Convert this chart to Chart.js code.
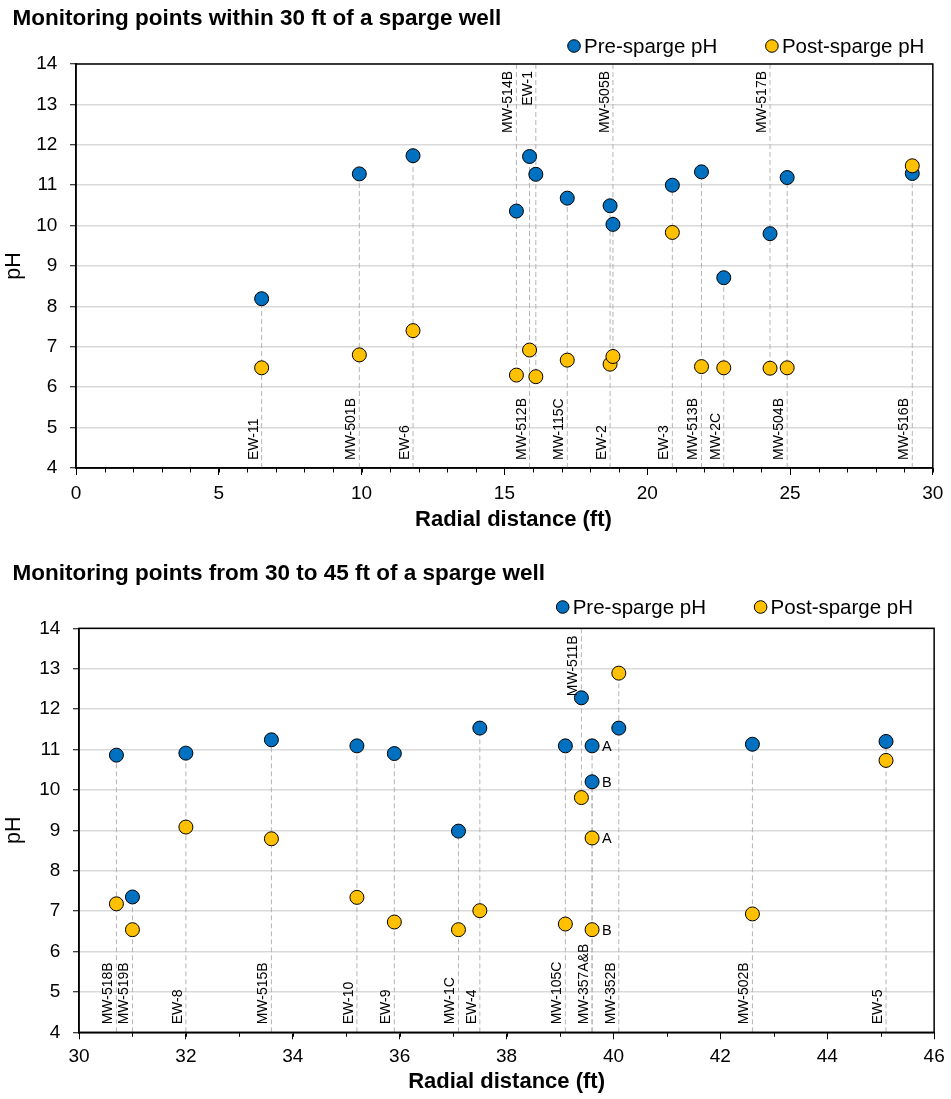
<!DOCTYPE html>
<html>
<head>
<meta charset="utf-8">
<title>Sparge well pH monitoring</title>
<script src="https://cdn.jsdelivr.net/npm/chart.js@4.4.1/dist/chart.umd.min.js"></script>
<style>
  html, body { margin: 0; padding: 0; background: #fff; }
  .panel { position: absolute; left: 0; width: 951px; }
  #panelNear { top: 0; height: 545px; }
  #panelFar { top: 545px; height: 554px; }
</style>
</head>
<body>
<div class="panel" id="panelNear"><canvas id="nearChart" width="951" height="545"></canvas></div>
<div class="panel" id="panelFar"><canvas id="farChart" width="951" height="554"></canvas></div>
<script>
// ---- Monitoring points within 30 ft ----
const nearWells = ['EW-11', 'MW-501B', 'EW-6', 'MW-514B', 'MW-512B', 'EW-1', 'MW-115C', 'EW-2', 'MW-505B', 'EW-3', 'MW-513B', 'MW-2C', 'MW-517B', 'MW-504B', 'MW-516B'];
const nearDistance = [6.5, 9.92, 11.8, 15.42, 15.88, 16.1, 17.2, 18.7, 18.8, 20.88, 21.9, 22.68, 24.3, 24.9, 29.28];
const nearPre = [8.19, 11.28, 11.73, 10.36, 11.71, 11.27, 10.68, 10.49, 10.03, 11.0, 11.33, 8.71, 9.8, 11.19, 11.29];
const nearPost = [6.48, 6.8, 7.4, 6.3, 6.92, 6.26, 6.67, 6.57, 6.76, 9.83, 6.51, 6.48, 6.47, 6.48, 11.48];
const nearLabelAtTop = [false, false, false, true, false, true, false, false, true, false, false, false, true, false, false];
const nearTags = ['', '', '', '', '', '', '', '', '', '', '', '', '', '', ''];
const nearXTicks = { min: 0, max: 30, step: 5 };

// ---- Monitoring points from 30 to 45 ft ----
const farWells = ['MW-518B', 'MW-519B', 'EW-8', 'MW-515B', 'EW-10', 'EW-9', 'MW-1C', 'EW-4', 'MW-105C', 'MW-511B', 'MW-357A&B', '', 'MW-352B', 'MW-502B', 'EW-5'];
const farDistance = [30.7, 31.0, 32.0, 33.6, 35.2, 35.9, 37.1, 37.5, 39.1, 39.4, 39.6, 39.6, 40.1, 42.6, 45.1];
const farPre = [10.86, 7.35, 10.91, 11.24, 11.09, 10.9, 8.98, 11.53, 11.09, 12.28, 11.09, 10.2, 11.53, 11.13, 11.2];
const farPost = [7.18, 6.54, 9.08, 8.79, 7.34, 6.73, 6.54, 7.01, 6.68, 9.81, 8.81, 6.54, 12.89, 6.93, 10.73];
const farLabelAtTop = [false, false, false, false, false, false, false, false, false, true, false, false, false, false, false];
const farTags = ['', '', '', '', '', '', '', '', '', '', 'A', 'B', '', '', ''];
const farXTicks = { min: 30, max: 46, step: 2 };

const seriesNames = ['Pre-sparge pH', 'Post-sparge pH'];
const seriesColors = ['#0070C0', '#FFC000'];
const pHRange = { min: 4, max: 14, step: 1 };
const distanceTitle = 'Radial distance (ft)';

const FONT = '"Liberation Sans", Arial, Helvetica, sans-serif';
Chart.defaults.font.family = FONT;
Chart.defaults.color = '#000';

// Draws the plot frame, minor x ticks, well names, A/B tags, the titles and the legend.
const wellAnnotations = {
  id: 'wellAnnotations',
  afterDatasetsDraw(chart, args, opts) {
    const { ctx, chartArea: a, scales: { x, y } } = chart;
    ctx.save();
    // minor ticks along the distance axis
    ctx.strokeStyle = '#000';
    ctx.lineWidth = 1;
    for (let v = x.min; v <= x.max + 1e-9; v += opts.minorStep) {
      const px = Math.round(x.getPixelForValue(v)) + 0.5;
      ctx.beginPath();
      ctx.moveTo(px, a.bottom);
      ctx.lineTo(px, a.bottom + opts.minorLength);
      ctx.stroke();
    }
    // box around the plot area
    ctx.lineWidth = 1.5;
    ctx.strokeRect(a.left, a.top, a.right - a.left, a.bottom - a.top);

    // well names along the drop lines
    ctx.fillStyle = '#000';
    ctx.font = '14px ' + FONT;
    opts.wells.forEach((name, i) => {
      if (!name) return;
      const px = x.getPixelForValue(opts.distance[i]);
      ctx.save();
      if (opts.atTop[i]) {
        ctx.translate(px - 4, a.top + 7);
        ctx.rotate(-Math.PI / 2);
        ctx.textAlign = 'right';
      } else {
        ctx.translate(px - 4, a.bottom - 8);
        ctx.rotate(-Math.PI / 2);
        ctx.textAlign = 'left';
      }
      ctx.textBaseline = 'alphabetic';
      ctx.fillText(name, 0, 0);
      ctx.restore();
    });

    // A / B tags beside paired points
    ctx.font = '14.5px ' + FONT;
    ctx.textAlign = 'left';
    ctx.textBaseline = 'middle';
    opts.tags.forEach((tag, i) => {
      if (!tag) return;
      const px = x.getPixelForValue(opts.distance[i]) + 10;
      ctx.fillText(tag, px, y.getPixelForValue(opts.pre[i]) + 1);
      ctx.fillText(tag, px, y.getPixelForValue(opts.post[i]) + 1);
    });
    ctx.restore();
  },
  afterDraw(chart, args, opts) {
    const { ctx, chartArea: a } = chart;
    ctx.save();
    // chart title
    ctx.fillStyle = '#000';
    ctx.font = 'bold 22.5px ' + FONT;
    ctx.textAlign = 'left';
    ctx.textBaseline = 'alphabetic';
    ctx.fillText(opts.title, 12.5, opts.titleBaseline);

    // distance axis title
    ctx.font = 'bold 22px ' + FONT;
    ctx.textAlign = 'center';
    ctx.textBaseline = 'middle';
    ctx.fillText(distanceTitle, (a.left + a.right) / 2 + opts.axisTitleShift, opts.axisTitleY);

    // legend
    ctx.font = '20.5px ' + FONT;
    ctx.textAlign = 'left';
    ctx.textBaseline = 'middle';
    let cx = opts.legendStart;
    chart.data.datasets.filter(d => d.inLegend).forEach(d => {
      ctx.beginPath();
      ctx.arc(cx, opts.legendY, 6.3, 0, Math.PI * 2);
      ctx.fillStyle = d.backgroundColor;
      ctx.fill();
      ctx.lineWidth = 1;
      ctx.strokeStyle = '#000';
      ctx.stroke();
      ctx.fillStyle = '#000';
      ctx.fillText(d.label, cx + 10, opts.legendY + 1);
      cx += 10 + ctx.measureText(d.label).width + 54.6;
    });
    ctx.restore();
  }
};

function buildDatasets(distance, pre, post, atTop) {
  const drops = distance.map((d, i) => ({
    showLine: true,
    inLegend: false,
    data: [
      { x: d, y: atTop[i] ? pHRange.max : pHRange.min },
      { x: d, y: atTop[i] ? Math.min(pre[i], post[i]) : Math.max(pre[i], post[i]) }
    ],
    borderColor: '#b4b4b4',
    borderWidth: 1,
    borderDash: [5, 3],
    pointRadius: 0,
    order: 3
  }));
  const points = [pre, post].map((vals, s) => ({
    label: seriesNames[s],
    inLegend: true,
    data: distance.map((d, i) => ({ x: d, y: vals[i] })),
    backgroundColor: seriesColors[s],
    borderColor: '#000',
    borderWidth: 1,
    pointRadius: 7,
    pointHoverRadius: 7,
    order: s === 0 ? 2 : 1
  }));
  return points.concat(drops);
}

function makeChart(canvasId, cfg) {
  return new Chart(document.getElementById(canvasId), {
    type: 'scatter',
    data: { datasets: buildDatasets(cfg.distance, cfg.pre, cfg.post, cfg.atTop) },
    plugins: [wellAnnotations],
    options: {
      responsive: false,
      animation: false,
      events: [],
      layout: { padding: { top: cfg.plotTop, right: cfg.padRight, left: 0, bottom: 0 } },
      plugins: {
        legend: { display: false },
        tooltip: { enabled: false },
        wellAnnotations: {
          wells: cfg.wells, distance: cfg.distance, pre: cfg.pre, post: cfg.post,
          atTop: cfg.atTop, tags: cfg.tags,
          minorStep: 1, minorLength: 4.5,
          title: cfg.title, titleBaseline: cfg.titleBaseline,
          axisTitleY: cfg.axisTitleY, axisTitleShift: cfg.axisTitleShift,
          legendStart: cfg.legendStart, legendY: cfg.legendY
        }
      },
      scales: {
        x: {
          type: 'linear',
          min: cfg.xTicks.min,
          max: cfg.xTicks.max,
          afterFit(s) { s.height = cfg.xAxisHeight; },
          ticks: { stepSize: cfg.xTicks.step, maxRotation: 0, padding: cfg.xTickPad, font: { size: 19 }, color: '#000' },
          grid: { drawOnChartArea: false, tickLength: 7, tickColor: '#000', tickWidth: 1 },
          border: { color: '#000', width: 1.5 }
        },
        y: {
          type: 'linear',
          min: pHRange.min,
          max: pHRange.max,
          afterFit(s) { s.width = cfg.yAxisWidth; },
          ticks: { stepSize: pHRange.step, padding: 12.7, font: { size: 19 }, color: '#000' },
          grid: { color: '#d9d9d9', lineWidth: 1.5, tickLength: 6, tickColor: '#000', tickWidth: 1 },
          border: { color: '#000', width: 1.5 },
          title: {
            display: true, text: 'pH', color: '#000',
            font: { size: 21.5 },
            padding: { top: 1.6, bottom: 0 }
          }
        }
      }
    }
  });
}

makeChart('nearChart', {
  wells: nearWells, distance: nearDistance, pre: nearPre, post: nearPost,
  atTop: nearLabelAtTop, tags: nearTags, xTicks: nearXTicks,
  title: 'Monitoring points within 30 ft of a sparge well', titleBaseline: 25,
  legendStart: 574, legendY: 46,
  plotTop: 64, padRight: 13, yAxisWidth: 76, xAxisHeight: 77,
  xTickPad: 7.6, axisTitleY: 520, axisTitleShift: 9
});

makeChart('farChart', {
  wells: farWells, distance: farDistance, pre: farPre, post: farPost,
  atTop: farLabelAtTop, tags: farTags, xTicks: farXTicks,
  title: 'Monitoring points from 30 to 45 ft of a sparge well', titleBaseline: 35,
  legendStart: 562.7, legendY: 62,
  plotTop: 83.3, padRight: 10.3, yAxisWidth: 79, xAxisHeight: 66.7,
  xTickPad: 6.3, axisTitleY: 537, axisTitleShift: 0
});
</script>
</body>
</html>
